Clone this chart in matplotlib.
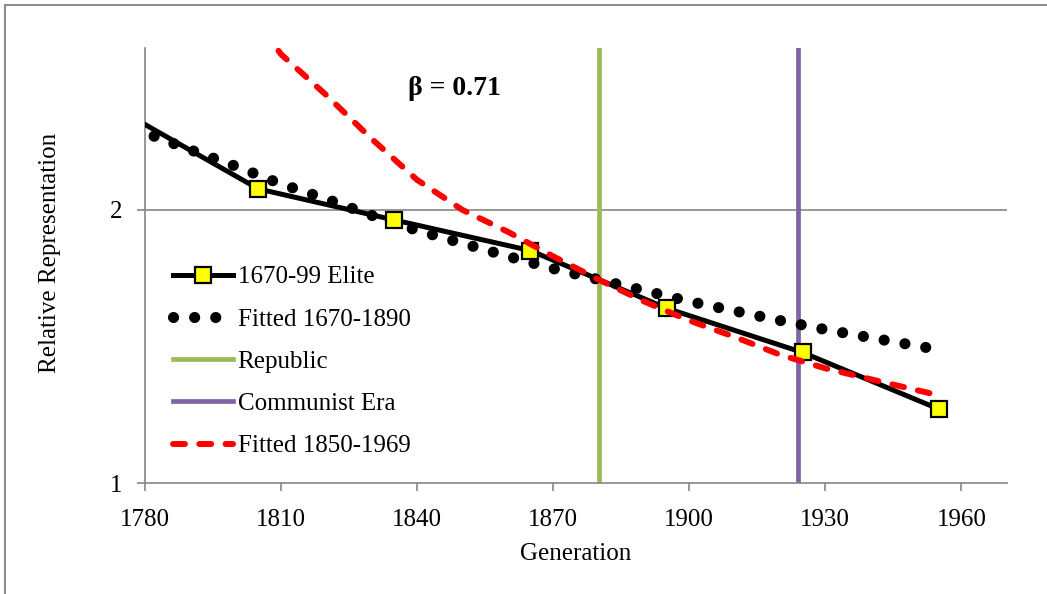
import matplotlib
matplotlib.use("Agg")
import numpy as np
import matplotlib.pyplot as plt
from matplotlib.patches import Rectangle

plt.rcParams['font.family'] = ['Liberation Serif', 'DejaVu Serif']

# 1670-99 elite, observed by generation
elite_years = [1775, 1805, 1835, 1865, 1895, 1925, 1955]
elite_values = [2.36, 2.077, 1.963, 1.851, 1.640, 1.478, 1.271]

# fitted 1670-1890
fit_old_years = [1782, 1790, 1800, 1810, 1820, 1830, 1840, 1850, 1860, 1870,
                 1880, 1890, 1900, 1910, 1920, 1930, 1940, 1953]
fit_old_values = [2.27, 2.22, 2.16, 2.095, 2.04, 1.98, 1.925, 1.878, 1.83, 1.785,
                  1.745, 1.705, 1.665, 1.63, 1.595, 1.562, 1.532, 1.494]

# fitted 1850-1969
fit_new_years = [1806, 1810, 1820, 1830, 1840, 1850, 1860, 1870, 1880, 1890,
                 1900, 1910, 1920, 1930, 1940, 1954]
fit_new_values = [2.66, 2.57, 2.42, 2.26, 2.11, 2.00, 1.92, 1.83, 1.745, 1.665,
                  1.595, 1.535, 1.47, 1.42, 1.38, 1.325]

republic_year = 1880
communist_year = 1924
beta_text = "β = 0.71"

x_ticks = [1780, 1810, 1840, 1870, 1900, 1930, 1960]
y_ticks = [1, 2]

axis_grey = '#868686'
dot_lw = 8

fig = plt.figure(figsize=(10.47, 5.94), dpi=100)
ax = fig.add_axes([145 / 1047, 1 - 483 / 594, (1006.7 - 145) / 1047, (483 - 48) / 594])
ax.set_xlim(1780, 1970)
ax.set_ylim(1, 2.593)

# chart frame (only left and top edges fall inside the picture)
fig.patches.append(Rectangle((5 / 1047, -0.1), 1.2, 1 - 5 / 594 + 0.1, transform=fig.transFigure,
                             fill=False, edgecolor='#8c8c8c', linewidth=1.5))

# make the dot pattern land a dot on both ends of the fitted line
pts = ax.transData.transform(np.column_stack([fit_old_years, fit_old_values]))
path_len = np.sum(np.hypot(*np.diff(pts, axis=0).T)) * 72 / fig.dpi
n_dots = round(path_len / (dot_lw * 1.9))
dot_gap = (path_len / n_dots / dot_lw - 0.01) * 0.995

ax.axhline(2, color=axis_grey, linewidth=1.2, zorder=1)

ax.plot(elite_years, elite_values, color='black', linewidth=3.6, marker='s',
        markersize=11, markerfacecolor='#FFFF00', markeredgecolor='black',
        markeredgewidth=1.6, label='1670-99 Elite', zorder=4)
ax.plot(fit_old_years, fit_old_values, color='black', linewidth=dot_lw,
        linestyle=(0, (0.01, dot_gap)), dash_capstyle='round', label='Fitted 1670-1890', zorder=3)
ax.axvline(republic_year, color='#9BBB59', linewidth=3.4, label='Republic', zorder=2)
ax.axvline(communist_year, color='#8064A2', linewidth=3.4, label='Communist Era', zorder=2)
ax.plot(fit_new_years, fit_new_values, color='#FF0000', linewidth=4.3,
        linestyle=(0, (2.0, 2.4)), dash_capstyle='round', label='Fitted 1850-1969', zorder=5)

ax.text(1848.3, 2.446, beta_text, fontsize=20, fontweight='bold', ha='center', va='center')

ax.set_xticks(x_ticks)
ax.set_yticks(y_ticks)
ax.tick_params(direction='out', length=6, width=1.2, color=axis_grey,
               labelsize=18, pad=10)
ax.tick_params(axis='x', pad=13)
for side in ['top', 'right']:
    ax.spines[side].set_visible(False)
for side in ['left', 'bottom']:
    ax.spines[side].set_color(axis_grey)
    ax.spines[side].set_linewidth(1.2)

ax.set_xlabel('Generation', fontsize=18, labelpad=8)
ax.set_ylabel('Relative Representation', fontsize=18)
ax.yaxis.set_label_coords(-0.098, 0.53)

leg = ax.legend(loc='upper left', bbox_to_anchor=(0.032, 0.499), frameon=False,
                fontsize=18, handlelength=2.4, handletextpad=0.2, labelspacing=0.79,
                borderaxespad=0, borderpad=0, numpoints=1)

fig.savefig('out.png', dpi=100)
